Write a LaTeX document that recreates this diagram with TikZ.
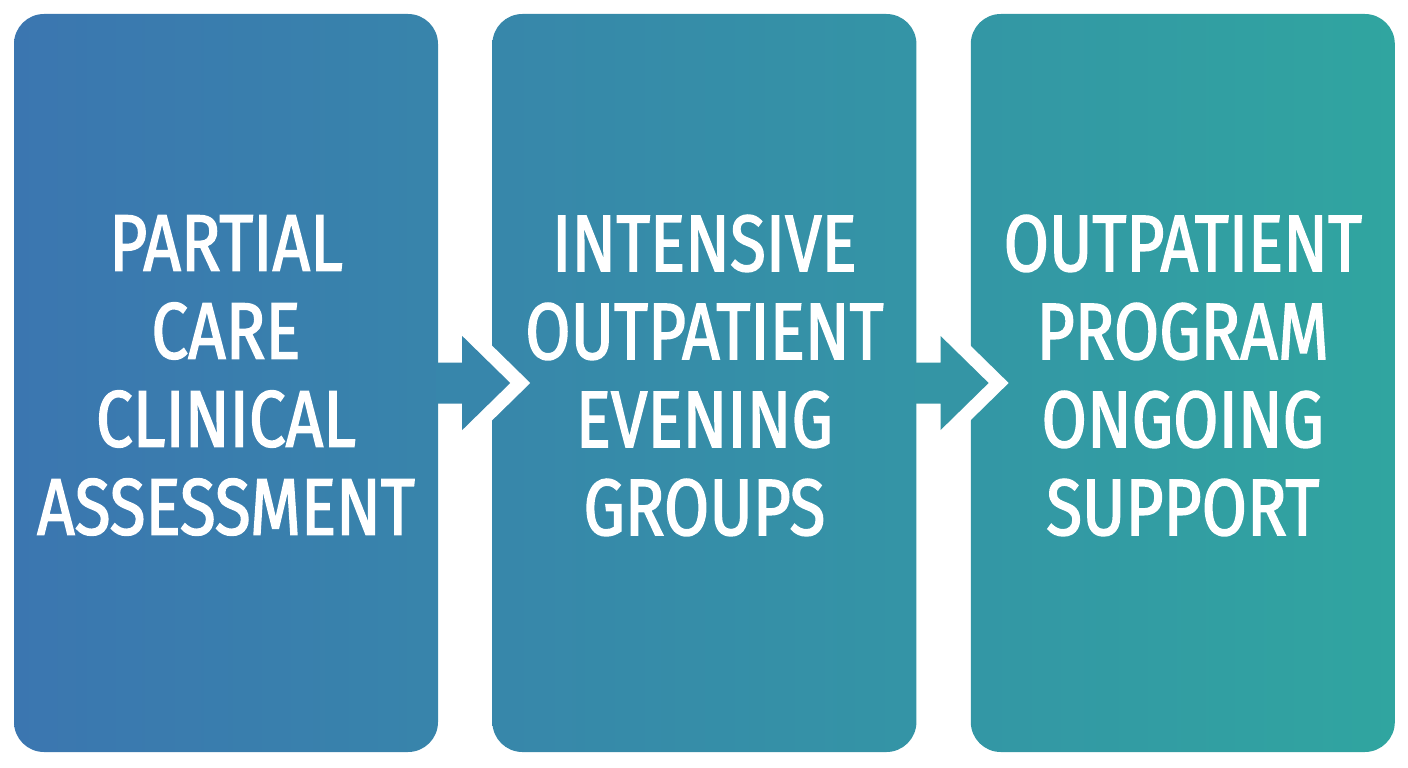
\documentclass[tikz,border=0pt]{standalone}
\usepackage{fontspec}
\newfontfamily\stagefont[FakeStretch=0.82, FakeBold=1.8]{Fira Sans}
\usetikzlibrary{calc,positioning}

\definecolor{startblue}{RGB}{59,118,176}
\definecolor{endteal}{RGB}{48,165,160}

\begin{document}
\begin{tikzpicture}[x=1pt, y=-1pt,
    stagebox/.style={rounded corners=30pt, minimum width=424pt, minimum height=738pt,
        inner sep=0pt, align=center, text=white, text depth=16pt,
        font=\stagefont\fontsize{80}{88}\selectfont}]

        \useasboundingbox (0,0) rectangle (1408,768);

        % Boxes
        \node[stagebox, left color=startblue, right color=endteal!31!startblue]
            (partial) at (226,383) {PARTIAL\\CARE\\CLINICAL\\ASSESSMENT};
        \node[stagebox, left color=endteal!35!startblue, right color=endteal!65!startblue,
            right=54pt of partial] (intensive) {INTENSIVE\\OUTPATIENT\\EVENING\\GROUPS};
        \node[stagebox, left color=endteal!69!startblue, right color=endteal,
            right=54pt of intensive] (outpatient) {OUTPATIENT\\PROGRAM\\ONGOING\\SUPPORT};

        % Arrows between boxes
        \foreach \from/\to/\shade in {partial/intensive/33, intensive/outpatient/67} {
            \draw[white, line width=28pt]
                ($(\from.east)+(24,-47)$) -- ($(\from.east)+(72,0)$) -- ($(\from.east)+(24,47)$);
            \fill[endteal!\shade!startblue]
                ($(\from.east)+(-2,-20.5)$) -- ($(\from.east)+(24,-20.5)$)
                -- ($(\from.east)+(24,-47)$) -- ($(\from.east)+(72,0)$)
                -- ($(\from.east)+(24,47)$) -- ($(\from.east)+(24,20.5)$)
                -- ($(\from.east)+(-2,20.5)$) -- cycle;
        }

    \end{tikzpicture}
\end{document}
